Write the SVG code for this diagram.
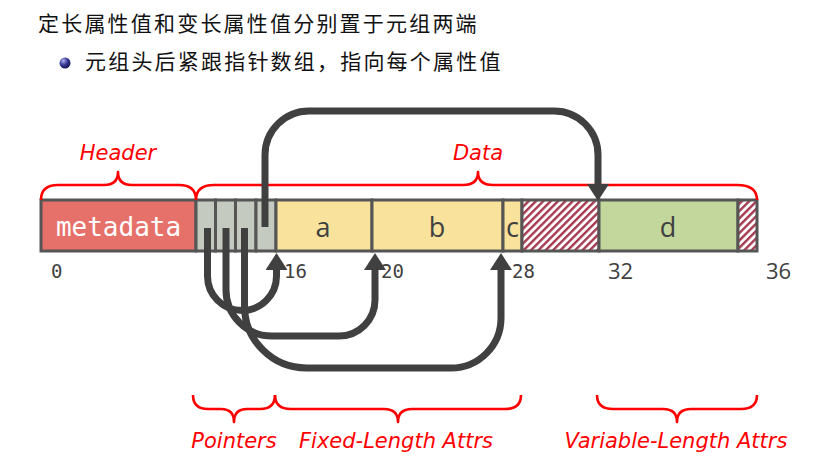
<svg xmlns="http://www.w3.org/2000/svg" width="826" height="457" viewBox="0 0 826 457">
<style>
.cell{stroke:#555;stroke-width:3}
.brace{fill:none;stroke:#ff0000;stroke-width:2.6;stroke-linejoin:round}
.lbl{font-family:"DejaVu Sans","Open Sans",sans-serif;font-style:italic;font-size:21px;fill:#ff0000}
.num{font-family:"DejaVu Sans Mono","Liberation Mono",monospace;font-size:19px;fill:#404040}
.num2{font-family:"Open Sans","Liberation Sans",sans-serif;font-size:22px;fill:#404040}
.let{font-family:"Open Sans","Liberation Sans",sans-serif;font-size:27px;fill:#404040;text-anchor:middle}
.cjk{font-family:"Noto Sans CJK SC",sans-serif;font-size:21px;fill:#111;letter-spacing:2.2px}
.conn{fill:none;stroke:#404040;stroke-width:7;marker-end:url(#ah)}
</style>
<defs>
<pattern id="hatch" patternUnits="userSpaceOnUse" width="5.2" height="10" patternTransform="rotate(45)">
<rect width="5.2" height="10" fill="#ffffff"/>
<rect width="2.4" height="10" fill="#a63a50"/>
</pattern>
<radialGradient id="ball" cx="0.35" cy="0.3" r="0.75">
<stop offset="0" stop-color="#b0b4f0"/>
<stop offset="0.5" stop-color="#3a3c9a"/>
<stop offset="1" stop-color="#10104a"/>
</radialGradient>
<marker id="ah" markerUnits="userSpaceOnUse" markerWidth="20" markerHeight="24" refX="0" refY="11" orient="auto" viewBox="0 0 20 24">
<path d="M0,0 L17,11 L0,22 z" fill="#404040"/>
</marker>
</defs>

<g id="title">
<text class="cjk" x="38" y="31">定长属性值和变长属性值分别置于元组两端</text>
</g>
<g id="bullet">
<circle cx="65" cy="63" r="5.5" fill="url(#ball)"/>
<text class="cjk" x="85" y="69">元组头后紧跟指针数组，指向每个属性值</text>
</g>

<g id="metadata">
<rect class="cell" x="41" y="200" width="155" height="51" fill="#e6716a"/>
<text x="118.5" y="236" font-family="DejaVu Sans Mono,monospace" font-size="26" fill="#ffffff" text-anchor="middle">metadata</text>
</g>
<g id="pointers">
<rect class="cell" x="196" y="200" width="19.5" height="51" fill="#c5cac0"/>
<rect class="cell" x="215.5" y="200" width="20" height="51" fill="#c5cac0"/>
<rect class="cell" x="235.5" y="200" width="20.5" height="51" fill="#c5cac0"/>
<rect class="cell" x="256" y="200" width="20" height="51" fill="#c5cac0"/>
</g>
<g id="attr-a">
<rect class="cell" x="276" y="200" width="96" height="51" fill="#f9e29c"/>
<text class="let" x="323" y="237">a</text>
</g>
<g id="attr-b">
<rect class="cell" x="372" y="200" width="131" height="51" fill="#f9e29c"/>
<text class="let" x="437" y="237">b</text>
</g>
<g id="attr-c">
<rect class="cell" x="503" y="200" width="19" height="51" fill="#f9e29c"/>
<text class="let" x="512.5" y="237">c</text>
</g>
<g id="pad1">
<rect class="cell" x="522" y="200" width="77" height="51" fill="url(#hatch)"/>
</g>
<g id="attr-d">
<rect class="cell" x="599" y="200" width="139" height="51" fill="#c3d69b"/>
<text class="let" x="668" y="237">d</text>
</g>
<g id="pad2">
<rect class="cell" x="738" y="200" width="19" height="51" fill="url(#hatch)"/>
</g>

<g id="offsets">
<text class="num" x="51" y="278">0</text>
<text class="num" x="284" y="278">16</text>
<text class="num" x="381" y="278">20</text>
<text class="num" x="512" y="278">28</text>
<text class="num2" x="608" y="279">32</text>
<text class="num2" x="766" y="279">36</text>
</g>

<g id="braces">
<path class="brace" d="M41,200 Q41,185 58,185 H104 Q118,185 118,172 Q118,185 132,185 H179 Q196,185 196,200"/>
<path class="brace" d="M196,200 Q196,185 214,185 H463 Q478,185 478,172 Q478,185 493,185 H737 Q757,185 757,200"/>
<path class="brace" d="M193,395 Q193,409 208,409 H221 Q234,409 234,422 Q234,409 247,409 H260 Q275,409 275,395"/>
<path class="brace" d="M275,395 Q275,409 291,409 H384 Q398,409 398,422 Q398,409 412,409 H505 Q521,409 521,395"/>
<path class="brace" d="M597,395 Q597,409 613,409 H663 Q677,409 677,422 Q677,409 691,409 H741 Q757,409 757,395"/>
</g>
<g id="labels">
<text class="lbl" x="118" y="160" text-anchor="middle">Header</text>
<text class="lbl" x="478" y="160" text-anchor="middle">Data</text>
<text class="lbl" x="234" y="448" text-anchor="middle">Pointers</text>
<text class="lbl" x="396" y="448" text-anchor="middle">Fixed-Length Attrs</text>
<text class="lbl" x="676" y="448" text-anchor="middle">Variable-Length Attrs</text>
</g>

<g id="connectors">
<path class="conn" d="M207.5,228 V276 A34.5,34.5 0 0 0 276.5,276 V270"/>
<path class="conn" d="M226,228 V290 A46,46 0 0 0 272,336 H339 A36,36 0 0 0 375,300 V270"/>
<path class="conn" d="M244.5,228 V306 A62,62 0 0 0 306.5,368 H451 A50,50 0 0 0 501,318 V270"/>
<path class="conn" d="M265,227 V155 A44,44 0 0 1 309,111 H554 A44,44 0 0 1 598,155 V184"/>
</g>
</svg>
